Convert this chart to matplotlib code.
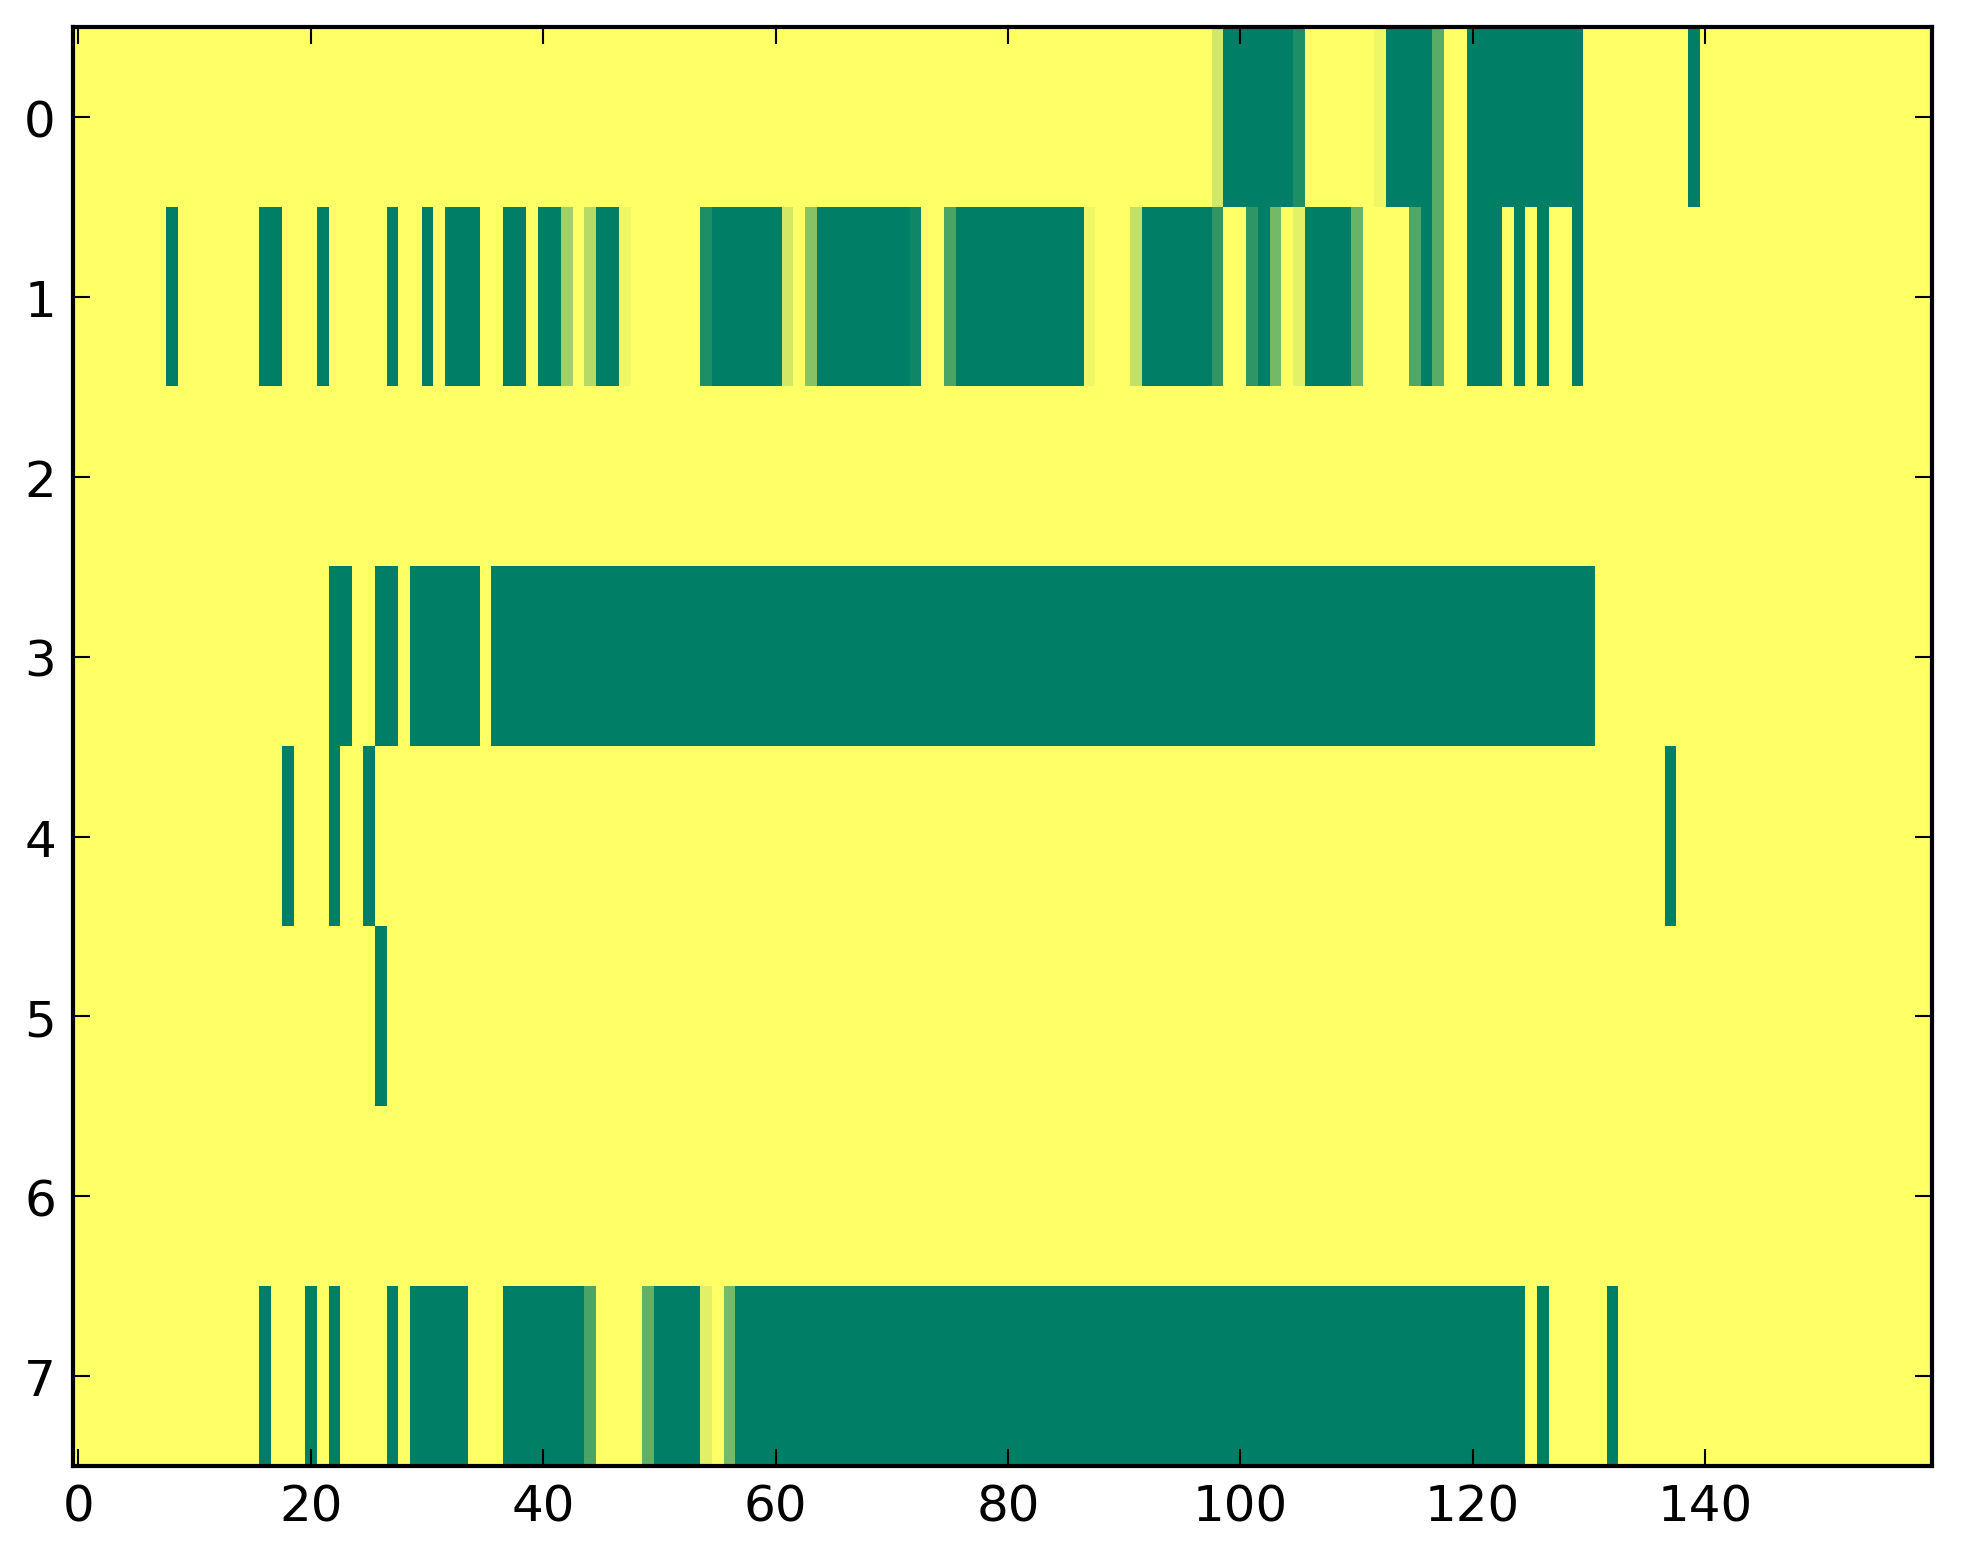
import numpy as np
import matplotlib
matplotlib.use("Agg")
import matplotlib.pyplot as plt

# each row is a list of (value, run length) pairs, 160 columns per row
# value 1 = yellow, 0 = dark green (summer colormap)
row0 = [(1, 98), (0.83, 1), (0, 6), (0.12, 1), (1, 6), (0.94, 1), (0, 4), (0.35, 1),
        (1, 2), (0, 10), (1, 9), (0, 1), (1, 20)]
row1 = [(1, 8), (0, 1), (1, 7), (0, 2), (1, 3), (0, 1), (1, 5), (0, 1), (1, 2), (0, 1),
        (1, 1), (0, 3), (1, 2), (0, 2), (1, 1), (0, 2), (0.63, 1), (1, 1), (0.71, 1),
        (0, 2), (0.94, 1), (1, 6), (0.12, 1), (0, 6), (0.83, 1), (1, 1), (0.53, 1),
        (0, 8), (0.06, 1), (1, 2), (0.29, 1), (0, 11), (0.94, 1), (1, 3), (0.76, 1),
        (0, 6), (0.18, 1), (1, 2), (0.18, 1), (0, 1), (0.45, 1), (1, 1), (0.89, 1),
        (0, 4), (0.41, 1), (1, 4), (0.31, 1), (0, 1), (0.35, 1), (1, 2), (0, 3), (1, 1),
        (0, 1), (1, 1), (0, 1), (1, 2), (0, 1), (1, 30)]
row2 = [(1, 160)]
row3 = [(1, 22), (0, 2), (1, 2), (0, 2), (1, 1), (0, 6), (1, 1), (0, 95), (1, 29)]
row4 = [(1, 18), (0, 1), (1, 3), (0, 1), (1, 2), (0, 1), (1, 111), (0, 1), (1, 22)]
row5 = [(1, 26), (0, 1), (1, 133)]
row6 = [(1, 160)]
row7 = [(1, 16), (0, 1), (1, 3), (0, 1), (1, 1), (0, 1), (1, 4), (0, 1), (1, 1), (0, 5),
        (1, 3), (0, 7), (0.29, 1), (1, 4), (0.38, 1), (0, 4), (0.88, 1), (1, 1),
        (0.46, 1), (0, 68), (1, 1), (0, 1), (1, 5), (0, 1), (1, 27)]

rows = [row0, row1, row2, row3, row4, row5, row6, row7]


def expand(runs):
    out = []
    for val, n in runs:
        out += [val] * n
    return out


data = np.array([expand(r) for r in rows])

plt.rcParams['font.family'] = 'DejaVu Sans'
plt.rcParams['font.size'] = 12

fig = plt.figure(figsize=(1963 / 300, 1564 / 300), dpi=300)
ax = fig.add_axes([0.037, 0.062, 0.947, 0.920])
ax.imshow(data, cmap='summer', vmin=0, vmax=1, aspect='auto', interpolation='nearest')

ax.set_xticks(np.arange(0, 141, 20))
ax.set_yticks(np.arange(0, 8))
ax.tick_params(direction='in', top=True, right=True, length=4, width=0.5, pad=4)
for s in ax.spines.values():
    s.set_linewidth(1.0)

fig.savefig("out.png", dpi=300)
